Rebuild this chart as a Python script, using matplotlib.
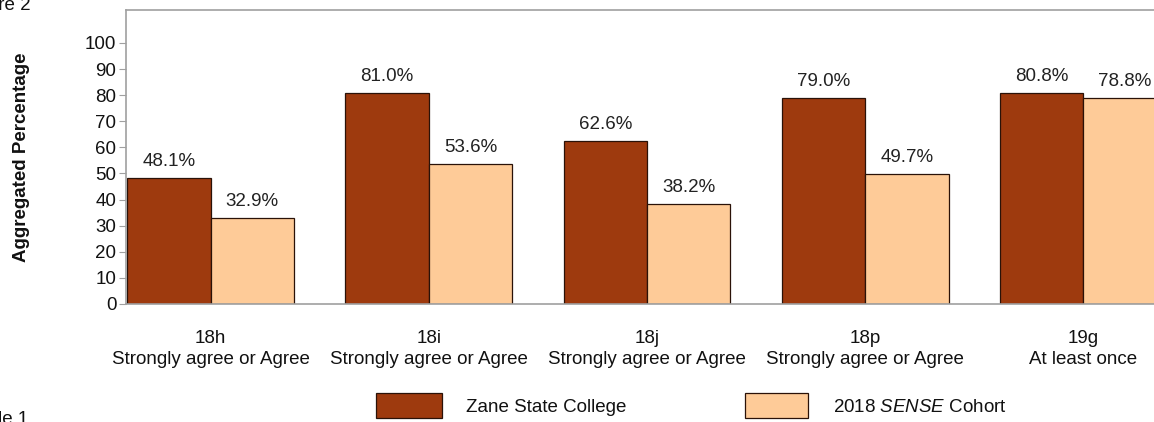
import numpy as np
import matplotlib
matplotlib.use("Agg")
import matplotlib.pyplot as plt
from matplotlib.patches import Rectangle

plt.rcParams["font.family"] = ["Liberation Sans", "DejaVu Sans"]
plt.rcParams["mathtext.fontset"] = "custom"
plt.rcParams["mathtext.rm"] = "Liberation Sans"
plt.rcParams["mathtext.it"] = "Liberation Sans:italic"

# ---------------------------------------------------------------------------
# data
# ---------------------------------------------------------------------------
items = ["18h", "18i", "18j", "18p", "19g"]
answers = ["Strongly agree or Agree", "Strongly agree or Agree", "Strongly agree or Agree",
           "Strongly agree or Agree", "At least once"]
college = [48.1, 81.0, 62.6, 79.0, 80.8]
cohort = [32.9, 53.6, 38.2, 49.7, 78.8]

C_COLLEGE = "#9e3a0e"
C_COHORT = "#fecb98"
GRID = "#a0a0a0"
FS = 13.5

W, H = 1154, 422
fig = plt.figure(figsize=(W / 100, H / 100), dpi=100)
# axes in pixel terms: left 126, right ~1168 (cut by figure), y0 at 304, top frame at 10
ax = fig.add_axes([126 / W, (H - 304) / H, (1168 - 126) / W, (304 - 10) / H])

x = np.arange(len(items))
w = 0.3826
ax.bar(x - w / 2, college, w, color=C_COLLEGE, edgecolor="#2a1208", linewidth=0.9)
ax.bar(x + w / 2, cohort, w, color=C_COHORT, edgecolor="#2a1208", linewidth=0.9)

for xi, v in zip(x, college):
    ax.annotate(f"{v:.1f}%", (xi - w / 2, v), xytext=(0, 8), textcoords="offset pixels",
                ha="center", va="bottom", fontsize=FS, color="#222222")
for xi, v in zip(x, cohort):
    ax.annotate(f"{v:.1f}%", (xi + w / 2, v), xytext=(0, 8), textcoords="offset pixels",
                ha="center", va="bottom", fontsize=FS, color="#222222")

ax.set_xlim(-w - 0.005, 4 + w + 0.005)
ax.set_ylim(0, 112.6)
ax.set_yticks(range(0, 101, 10))
ax.tick_params(axis="y", labelsize=FS, length=5, color=GRID, pad=2, labelcolor="#111111")
ax.set_xticks(x)
ax.set_xticklabels([f"{i}\n{a}" for i, a in zip(items, answers)], fontsize=FS,
                   linespacing=1.25, color="#111111")
ax.tick_params(axis="x", length=0, pad=19)
for side in ("left", "top", "bottom", "right"):
    ax.spines[side].set_color(GRID)
    ax.spines[side].set_linewidth(1.2)

fig.text(22 / W, 1 - 157 / H, "Aggregated Percentage", rotation=90, ha="center", va="center",
         fontsize=FS, fontweight="bold", color="#111111")

# captions of the surrounding page, cut by the crop
fig.text(31 / W, 1 - 6 / H, "Figure 2", ha="right", va="center", fontsize=FS, color="#111111")
fig.text(28 / W, 1 - 420 / H, "Table 1", ha="right", va="center", fontsize=FS, color="#111111")

# legend
for x0, x1, c in ((376, 442, C_COLLEGE), (745, 808, C_COHORT)):
    fig.patches.append(Rectangle((x0 / W, 1 - 418 / H), (x1 - x0) / W, 25 / H,
                                 transform=fig.transFigure, facecolor=c,
                                 edgecolor="#2a1208", linewidth=0.9))
fig.text(466 / W, 1 - 408 / H, "Zane State College", ha="left", va="center", fontsize=FS,
         color="#111111")
fig.text(833 / W, 1 - 408 / H, r"2018 $\mathit{SENSE}$ Cohort", ha="left", va="center",
         fontsize=FS, color="#111111")

fig.savefig("out.png", dpi=100)
